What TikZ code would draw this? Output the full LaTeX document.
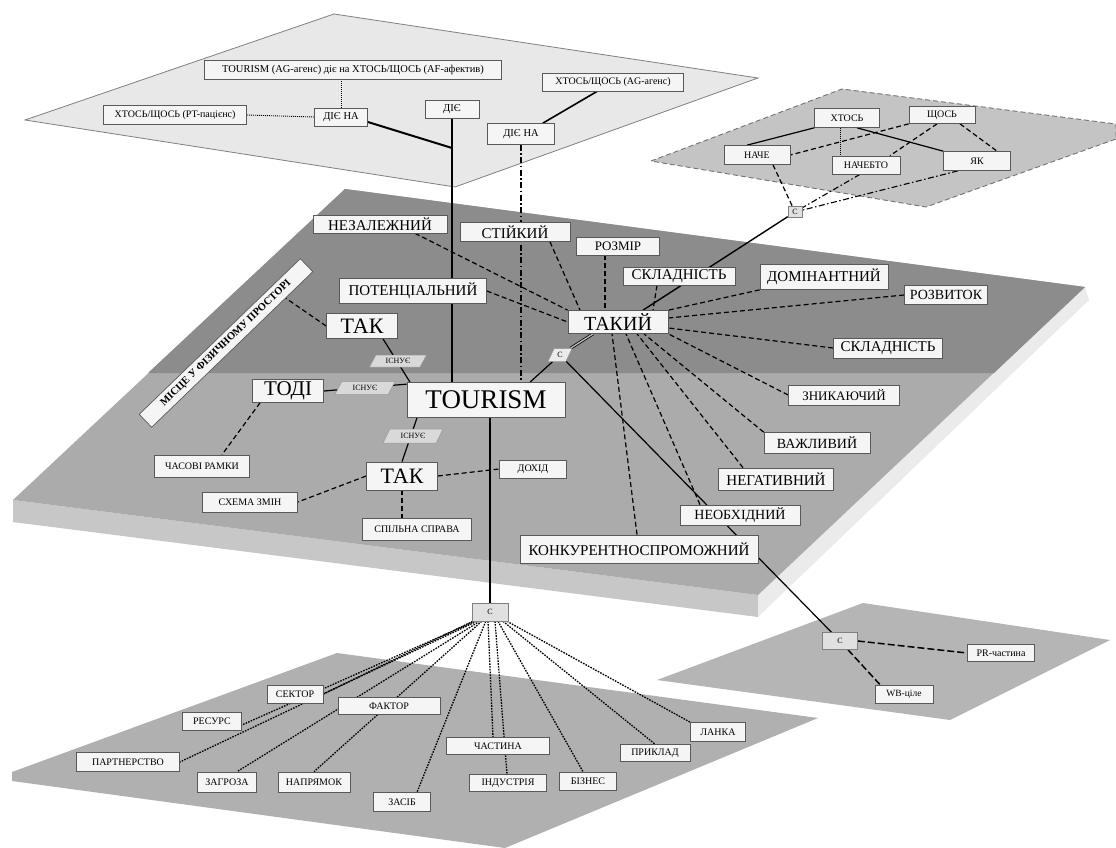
\documentclass[tikz,border=0pt]{standalone}
\usepackage{fontspec}
\setmainfont{Liberation Serif}
\usetikzlibrary{calc,shapes.geometric}
\pgfdeclarelayer{planes}
\pgfdeclarelayer{lines}
\pgfsetlayers{planes,lines,main}
\newcommand\myfs[1]{\fontsize{#1}{#1}\selectfont}
\begin{document}
\begin{tikzpicture}[x=1pt,y=-1pt,
  bx/.style={draw=black!65,line width=0.7pt,fill=black!4,inner sep=1pt,align=center},
  sz/.style 2 args={minimum width=#1pt,minimum height=#2pt},
  cbx/.style={draw=black!50,line width=0.6pt,fill=black!12,inner sep=1pt,font=\myfs{8}},
  isbox/.style={trapezium,trapezium left angle=62,trapezium right angle=118,trapezium stretches=true,draw=black!40,line width=0.5pt,fill=black!15,inner sep=1pt,font=\myfs{8}},
  sol/.style={line width=1.2pt},
  dsh/.style={line width=1.2pt,dash pattern=on 5pt off 3pt},
  dotl/.style={line width=1.3pt,dash pattern=on 1.6pt off 1.2pt},
  ddot/.style={line width=1.1pt,dash pattern=on 6pt off 2.5pt on 1.5pt off 2.5pt},
  dttop/.style={line width=0.9pt,dash pattern=on 1pt off 1pt}]
\useasboundingbox (0,0) rectangle (1116,848);

% ---------- planes ----------
\begin{pgfonlayer}{planes}
\fill[white] (0,0) rectangle (1116,848);
\filldraw[fill=black!9,draw=black!50,line width=0.8pt] (334,14) -- (758,78) -- (455,187) -- (25,120) -- cycle;
\filldraw[fill=black!23,draw=black!55,line width=0.9pt,dash pattern=on 5pt off 3pt] (651,161) -- (842,89) -- (1116,124) -- (1116,139) -- (926,207) -- cycle;
\fill[black!22] (13,500) -- (758,595) -- (758,617) -- (13,522) -- cycle;
\fill[black!8] (758,595) -- (1085,287) -- (1089,300) -- (758,617) -- cycle;
\fill[black!33] (345,189) -- (1085,287) -- (758,595) -- (13,500) -- cycle;
\fill[black!45] (345,189) -- (1085,287) -- (994,373) -- (148,373) -- cycle;
\fill[black!31] (12,772) -- (337,653) -- (818,718) -- (505,848) -- (12,781) -- cycle;
\fill[black!29] (657,680) -- (863,603) -- (1110,640) -- (950,720) -- cycle;
\end{pgfonlayer}

% ---------- top plane nodes ----------
\node[bx,sz={297}{19},font=\myfs{10.5}] (tag) at (353,70) {TOURISM (AG-агенс) діє на ХТОСЬ/ЩОСЬ (AF-афектив)};
\node[bx,sz={143}{19},font=\myfs{10}] (tpt) at (175,115) {ХТОСЬ/ЩОСЬ (PT-пацієнс)};
\node[bx,sz={53}{18},font=\myfs{10.5}] (dina1) at (341,117) {ДІЄ НА};
\node[bx,sz={54}{18},font=\myfs{10.5}] (die) at (452,109) {ДІЄ};
\node[bx,sz={141}{18},font=\myfs{10}] (tag2) at (613,82) {ХТОСЬ/ЩОСЬ (AG-агенс)};
\node[bx,sz={67}{21},font=\myfs{10.5}] (dina2) at (521,134) {ДІЄ НА};
\coordinate (j1) at (452,148);

% ---------- top-right plane nodes ----------
\node[bx,sz={65}{19},font=\myfs{10}] (xt) at (847,118) {ХТОСЬ};
\node[bx,sz={66}{17},font=\myfs{10}] (shch) at (942,115) {ЩОСЬ};
\node[bx,sz={66}{19},font=\myfs{10}] (nache) at (757,155) {НАЧЕ};
\node[bx,sz={68}{18},font=\myfs{10}] (nachebto) at (866,165) {НАЧЕБТО};
\node[bx,sz={67}{19},font=\myfs{10}] (yak) at (977,161) {ЯК};
\node[cbx,sz={14}{11}] (ctr) at (795,212) {С};

% ---------- main plane nodes ----------
\node[bx,sz={134}{18},font=\myfs{15}] (nez) at (380,224) {НЕЗАЛЕЖНИЙ};
\node[bx,sz={110}{19},font=\myfs{15}] (sti) at (515,232) {СТІЙКИЙ};
\node[bx,sz={83}{18},font=\myfs{13}] (roz) at (618,246) {РОЗМІР};
\node[bx,sz={147}{25},font=\myfs{15}] (pot) at (413,291) {ПОТЕНЦІАЛЬНИЙ};
\node[bx,sz={112}{18},font=\myfs{15}] (skl1) at (679,276) {СКЛАДНІСТЬ};
\node[bx,sz={128}{25},font=\myfs{15}] (dom) at (824,277) {ДОМІНАНТНИЙ};
\node[bx,sz={83}{19},font=\myfs{14}] (rozv) at (946,295) {РОЗВИТОК};
\node[bx,sz={100}{23},font=\myfs{20}] (tak) at (618,322) {ТАКИЙ};
\node[bx,sz={109}{20},font=\myfs{15}] (skl2) at (888,348) {СКЛАДНІСТЬ};
\node[bx,sz={71}{25},font=\myfs{22}] (tak1) at (362,326) {ТАК};
\node[bx,sz={224}{18},rotate=44,font=\myfs{10.5}\bfseries] (misc) at (226,343) {МІСЦЕ У ФІЗИЧНОМУ ПРОСТОРІ};
\node[bx,sz={71}{23},font=\myfs{21}] (todi) at (288,391) {ТОДІ};
\node[bx,sz={158}{35},font=\myfs{27}] (tour) at (486,400) {TOURISM};
\node[bx,sz={71}{28},font=\myfs{22}] (tak2) at (402,476) {ТАК};
\node[bx,sz={67}{18},font=\myfs{10}] (doh) at (533,469) {ДОХІД};
\node[bx,sz={95}{22},font=\myfs{10}] (chas) at (202,466) {ЧАСОВІ РАМКИ};
\node[bx,sz={95}{20},font=\myfs{10}] (shem) at (250,502) {СХЕМА ЗМІН};
\node[bx,sz={109}{22},font=\myfs{10}] (spil) at (417,529) {СПІЛЬНА СПРАВА};
\node[bx,sz={111}{20},font=\myfs{13}] (znyk) at (844,395) {ЗНИКАЮЧИЙ};
\node[bx,sz={106}{21},font=\myfs{14}] (vazh) at (817,443) {ВАЖЛИВИЙ};
\node[bx,sz={115}{22},font=\myfs{15}] (neg) at (776,479) {НЕГАТИВНИЙ};
\node[bx,sz={120}{20},font=\myfs{14}] (neob) at (740,515) {НЕОБХІДНИЙ};
\node[bx,sz={238}{28},font=\myfs{15}] (konk) at (639,549) {КОНКУРЕНТНОСПРОМОЖНИЙ};
\node[isbox,minimum width=57pt,minimum height=12pt] (isn1) at (398,361) {ІСНУЄ};
\node[isbox,minimum width=60pt,minimum height=13pt] (isn2) at (365,388) {ІСНУЄ};
\node[isbox,minimum width=60pt,minimum height=14pt] (isn3) at (413,436) {ІСНУЄ};
\node[isbox,minimum width=24pt,minimum height=13pt,fill=black!8] (cmid) at (560,355) {С};

% ---------- bottom planes nodes ----------
\node[cbx,sz={36}{18}] (cbot) at (490,612) {С};
\node[bx,sz={56}{18},font=\myfs{10}] (sek) at (295,694) {СЕКТОР};
\node[bx,sz={102}{17},font=\myfs{10}] (fak) at (389,706) {ФАКТОР};
\node[bx,sz={59}{18},font=\myfs{10}] (res) at (212,721) {РЕСУРС};
\node[bx,sz={103}{19},font=\myfs{10}] (part) at (128,762) {ПАРТНЕРСТВО};
\node[bx,sz={59}{20},font=\myfs{10}] (zag) at (227,782) {ЗАГРОЗА};
\node[bx,sz={72}{20},font=\myfs{10}] (napr) at (314,782) {НАПРЯМОК};
\node[bx,sz={57}{19},font=\myfs{10}] (zas) at (402,802) {ЗАСІБ};
\node[bx,sz={103}{17},font=\myfs{10}] (chast) at (498,746) {ЧАСТИНА};
\node[bx,sz={77}{17},font=\myfs{10}] (indu) at (508,783) {ІНДУСТРІЯ};
\node[bx,sz={57}{18},font=\myfs{10}] (biz) at (588,781) {БІЗНЕС};
\node[bx,sz={70}{17},font=\myfs{10}] (pryk) at (655,753) {ПРИКЛАД};
\node[bx,sz={55}{19},font=\myfs{10}] (lanka) at (718,732) {ЛАНКА};
\node[cbx,sz={35}{17}] (cbr) at (840,641) {С};
\node[bx,sz={67}{17},font=\myfs{10}] (pr) at (1001,653) {PR-частина};
\node[bx,sz={58}{18},font=\myfs{9.5}] (wb) at (904,694) {WB-ціле};

% ---------- connectors ----------
\begin{pgfonlayer}{lines}
% top plane
\draw[dttop] (dina1.north) -- (dina1.north |- tag.south);
\draw[dttop] (tpt.east) -- (dina1.west);
\draw[line width=2pt] ([yshift=-5pt]dina1.east) -- (j1);
\draw[line width=1.3pt] (die.south) -- (die.south |- tour.north);
\draw[line width=1.6pt] ([xshift=-12pt]dina2.north east) -- ([xshift=55pt]tag2.south west);
\draw[ddot] (dina2.south) -- (dina2.south |- tour.north);
% top-right plane
\draw[sol] (xt.south west) -- ([xshift=-10pt]nache.north);
\draw[dttop] ([xshift=-7pt]xt.south) -- ([xshift=-7pt]xt.south |- nachebto.north);
\draw[sol] ([xshift=10pt]xt.south) -- (yak.north west);
\draw[dsh] (shch.south west) -- (nache.east);
\draw[dsh] ([xshift=-5pt]shch.south) -- ([xshift=24pt]nachebto.north);
\draw[dsh] ([xshift=18pt]shch.south) -- ([xshift=20pt]yak.north);
\draw[dsh] ([xshift=16pt]nache.south) -- (ctr);
\draw[ddot] ([xshift=-6pt]nachebto.south) -- (ctr);
\draw[ddot] ([xshift=-19pt]yak.south) -- (ctr);
\draw[line width=1.4pt] (ctr) -- ([xshift=25pt]tak.north);
\draw[line width=0.8pt,double=black!25,double distance=1.3pt] ([xshift=-25pt]tak.south) -- (cmid);
\draw[sol] (cmid) -- ([xshift=44pt]tour.north);
\draw[sol] (cmid) -- (cbr);
% TAKYJ fan
\draw[dsh] ([xshift=35pt]nez.south) -- (tak.north west);
\draw[dsh] ([xshift=35pt]sti.south) -- ([xshift=-38pt]tak.north);
\draw[dsh] ([xshift=-13pt]roz.south) -- ([xshift=-13pt]roz.south |- tak.north);
\draw[dsh] (pot.east) -- (tak.west);
\draw[dsh] ([xshift=-22pt]skl1.south) -- ([xshift=35pt]tak.north);
\draw[dsh] (dom.south west) -- (tak.north east);
\draw[dsh] (rozv.west) -- ([yshift=4pt]tak.east);
\draw[dsh] (skl2.west) -- ([yshift=-6pt]tak.east);
\draw[dsh] (znyk.west) -- (tak.south east);
\draw[dsh] (vazh.north west) -- ([xshift=26pt]tak.south);
\draw[dsh] ([xshift=-33pt]neg.north) -- ([xshift=19pt]tak.south);
\draw[dsh] ([xshift=-40pt]neob.north) -- ([xshift=8pt]tak.south);
\draw[dsh] ([xshift=-2pt]konk.north) -- ([xshift=-6pt]tak.south);
% left part of main plane
\draw[dsh] (tak1.west) -- ($(misc.south)!0.66!(misc.south east)$);
\draw[sol] ([xshift=21pt]tak1.south) -- ([xshift=-76pt]tour.north);
\draw[sol] (todi.east) -- ([yshift=-2pt]tour.north west);
\draw[sol] ([xshift=-69pt]tour.south) -- (tak2.north);
\draw[dsh] ([xshift=-28pt]todi.south) -- ([xshift=20pt]chas.north);
\draw[dsh] (tak2.west) -- (shem.east);
\draw[dsh] (tak2.east) -- (doh.west);
\draw[dsh] (tak2.south) -- (tak2.south |- spil.north);
\draw[sol] (cbot.north) -- (cbot.north |- tour.south);
% bottom-left fan
\draw[dotl] ([xshift=1pt]cbot.south west) -- (sek.east);
\draw[dotl] ([xshift=3pt]cbot.south west) -- ([yshift=-4pt]res.east);
\draw[dotl] ([xshift=5pt]cbot.south west) -- (part.east);
\draw[dotl] ([xshift=8pt]cbot.south west) -- ([xshift=10pt]zag.north);
\draw[dotl] ([xshift=10pt]cbot.south west) -- (napr.north);
\draw[dotl] ([xshift=14pt]cbot.south west) -- ([xshift=15pt]zas.north);
\draw[dotl] ([xshift=-2pt]cbot.south) -- ([xshift=-5pt]chast.north);
\draw[dotl] ([xshift=5pt]cbot.south) -- ([xshift=-1pt]indu.north);
\draw[dotl] ([xshift=8pt]cbot.south) -- ([xshift=-5pt]biz.north);
\draw[dotl] ([xshift=13pt]cbot.south) -- (pryk.north);
\draw[dotl] ([xshift=17pt]cbot.south) -- (lanka.north west);
% bottom-right
\draw[line width=1.5pt,dash pattern=on 7pt off 3pt] (cbr.east) -- (pr.west);
\draw[line width=1.5pt,dash pattern=on 7pt off 3pt] ([xshift=8pt]cbr.south) -- ([xshift=-24pt]wb.north);
\end{pgfonlayer}
\end{tikzpicture}
\end{document}
